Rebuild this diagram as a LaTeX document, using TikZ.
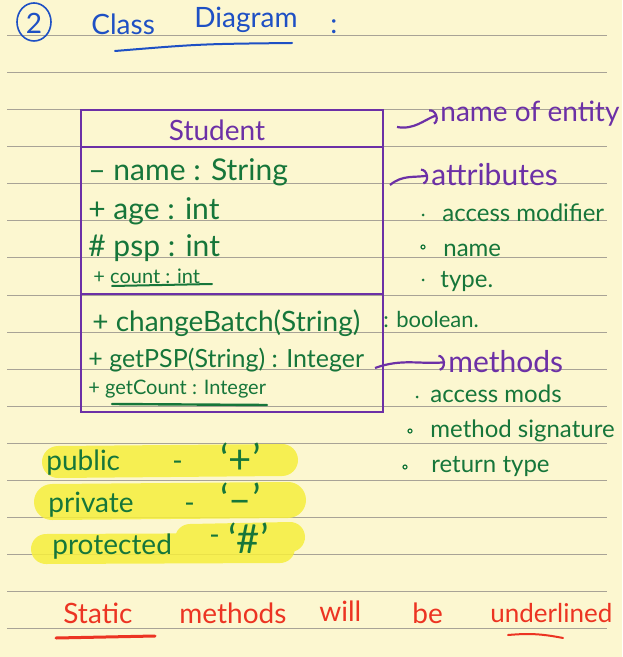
\documentclass[tikz,border=0pt]{standalone}
\usepackage{fontspec}
\setmainfont{Lato}
\usetikzlibrary{arrows.meta}
\definecolor{paper}{RGB}{252,247,208}
\definecolor{ruled}{RGB}{168,163,150}
\definecolor{pnote}{RGB}{108,48,166}
\definecolor{gnote}{RGB}{22,118,58}
\definecolor{bnote}{RGB}{30,80,196}
\definecolor{rnote}{RGB}{236,52,34}
\definecolor{hilite}{RGB}{246,238,60}
\begin{document}
\begin{tikzpicture}[x=.5pt,y=-.5pt,
  txt/.style={inner sep=0pt,anchor=west,font=\fontsize{#1}{#1}\selectfont},
  gtxt/.style={txt=#1,text=gnote},gtxt/.default=14,
  ptxt/.style={txt=#1,text=pnote},ptxt/.default=15,
  rtxt/.style={txt=#1,text=rnote},rtxt/.default=14,
  btxt/.style={txt=14,text=bnote},
  harrow/.style={pnote,line width=1.1pt,shorten >=1.5pt,-{Arc Barb[length=3pt,width=8pt]}},
  hl/.style={hilite,opacity=.85,line width=#1,line cap=round}]
\useasboundingbox (0,0) rectangle (622,657);
\fill[paper] (0,0) rectangle (622,657);
\foreach \k in {0,...,16}
  \draw[ruled,line width=.5pt] (7,36+37*\k) -- (607,36+37*\k);
% title
\draw[bnote,line width=.8pt] (34,22) ellipse (17 and 19);
\node[btxt,anchor=center] (num) at (34,23) {2};
\node[btxt] (cls) at (91,24) {Class};
\node[btxt] (diag) at (194,20) {Diagram};
\node[btxt] (colon) at (330,27) {:};
\draw[bnote,line width=1pt,line cap=round] (115,51) .. controls (200,44) .. (292,43);
% class box
\draw[pnote,line width=.7pt] (81,110) rectangle (383,412);
\draw[pnote,line width=.7pt] (81,147) -- (383,147) (81,294) -- (383,294);
\node[ptxt=14,anchor=center] (student) at (217,130) {Student};
\node[gtxt=15] (aname) at (88,172) {-- name : String};
\node[gtxt=15] (aage) at (88,211) {+ age : int};
\node[gtxt=15] (apsp) at (88,248) {\# psp : int};
\node[gtxt=10] (acount) at (93,276) {+ count : int};
\draw[gnote,line width=1pt,line cap=round] (112,286) -- (212,284);
\node[gtxt=14] (mbatch) at (92,323) {+ changeBatch(String)};
\node[gtxt=11] (mbool) at (383,319) {: boolean.};
\node[gtxt=12.5] (mpsp) at (88,360) {+ getPSP(String) : Integer};
\node[gtxt=10] (mcount) at (88,389) {+ getCount : Integer};
\draw[gnote,line width=1.2pt,line cap=round] (112,404) -- (267,405);
% notes on the right
\coordinate (e0) at (397,127);
\node[ptxt=14] (entity) at (440,114) {name of entity};
\draw[harrow] (e0) to[out=-10,in=200] (entity.west);
\coordinate (a0) at (390,185);
\node[ptxt] (attr) at (431,175) {attributes};
\draw[harrow] (a0) to[out=40,in=190] (attr.west);
\node[gtxt=12] (acc) at (442,213) {access modifier};
\node[gtxt=12] (nm) at (443,250) {name};
\node[gtxt=12] (tp) at (440,282) {type.};
\fill[gnote] (423,215) circle (1.5) (423,280) circle (1.5);
\draw[gnote,line width=.6pt] (423,247) circle (2);
\coordinate (m0) at (375,368);
\node[ptxt] (meth) at (448,362) {methods};
\draw[harrow] (m0) to[out=20,in=185] (meth.west);
\node[gtxt=12] (accm) at (430,394) {access mods};
\node[gtxt=12] (sig) at (430,431) {method signature};
\node[gtxt=12] (ret) at (431,467) {return type};
\fill[gnote] (417,397) circle (1.5);
\draw[gnote,line width=.6pt] (410,431) circle (2) (405,467) circle (2);
% access symbols
\draw[hl=16pt] (58,462) -- (282,460);
\draw[hl=18pt] (52,502) -- (288,500);
\draw[hl=15pt] (46,549) -- (280,548) (190,539) -- (290,537);
\node[gtxt] (pub) at (46,463) {public};
\node[gtxt] (pubd) at (172,466) {-};
\node[gtxt=20] (pubs) at (220,458) {`+'};
\node[gtxt] (pri) at (48,505) {private};
\node[gtxt] (prid) at (184,508) {-};
\node[gtxt=20] (pris) at (220,498) {`--'};
\node[gtxt] (pro) at (52,547) {protected};
\node[gtxt] (prod) at (209,540) {-};
\node[gtxt=20] (pros) at (228,538) {`\#'};
% static note
\node[rtxt] (w1) at (63,613) {Static};
\node[rtxt] (w2) at (179,613) {methods};
\node[rtxt] (w3) at (319,611) {will};
\node[rtxt] (w4) at (412,613) {be};
\node[rtxt=13] (w5) at (490,613) {underlined};
\draw[rnote,line width=1.5pt,line cap=round] (56,638) -- (155,636);
\draw[rnote,line width=1pt,line cap=round] (508,635) to[bend left=8] (563,638);
\end{tikzpicture}
\end{document}
